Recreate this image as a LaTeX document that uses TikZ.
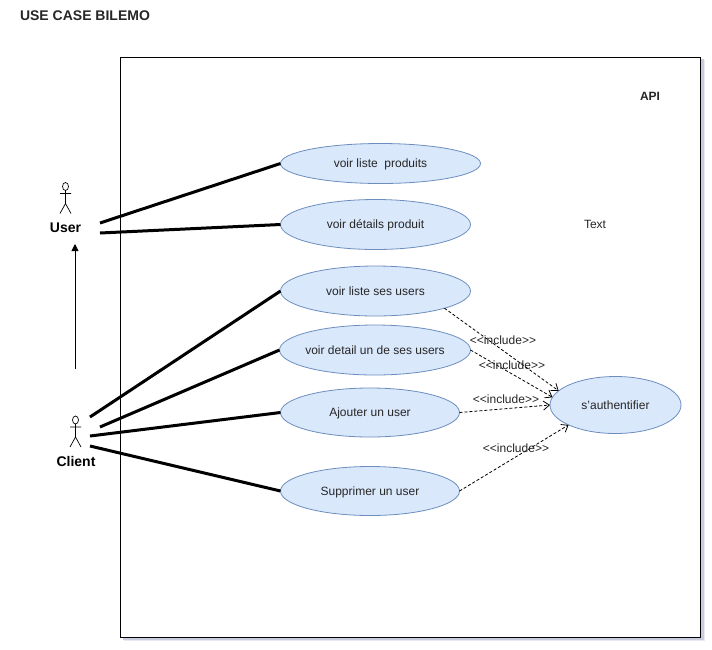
\documentclass[tikz,border=0pt]{standalone}
\usepackage{fontspec}
\setmainfont{Liberation Sans}
\usetikzlibrary{shapes.geometric, arrows.meta, positioning}

\definecolor{blue1}{HTML}{6C8EBF}
\definecolor{blue2}{HTML}{DAE8FC}
\definecolor{boxshade}{HTML}{C8CCDC}
\definecolor{boxshadelight}{HTML}{E8EAF1}
\tikzset{
    usecase/.style={ellipse, draw=blue1, fill=blue2, line width=0.8pt, inner sep=0pt, outer sep=0pt, text height=10pt, text depth=2pt, font=\fontsize{12}{14}\selectfont, text=black!85},
    actorlabel/.style={font=\bfseries\fontsize{14}{16}\selectfont, inner sep=0pt},
    plainlabel/.style={font=\fontsize{12}{14}\selectfont, inner sep=0pt, text=black!85},
    titlelabel/.style={font=\bfseries\fontsize{12}{14}\selectfont, inner sep=0pt, text=black!85},
    assoc/.style={line width=3pt},
    incl/.style={densely dashed, line width=0.8pt, -{Straight Barb[length=6pt,width=9pt]}},
    stick/.pic={
        \draw[line width=0.7pt] (0,0) ellipse (3pt and 4pt);
        \draw[line width=0.7pt] (0,4) -- (0,17) (-5.5,7) -- (5.5,7) (-5.5,27) -- (0,17) -- (5.5,27);
    }
}

\begin{document}
\begin{tikzpicture}[x=1pt, y=-1pt]
\useasboundingbox (0,0) rectangle (712,649);

% System box
\fill[boxshadelight] (124,60) rectangle (705,641);
\fill[boxshade] (123,59) rectangle (703.5,639.5);
\node[draw, fill=white, line width=1pt, minimum width=580pt, minimum height=580pt, inner sep=0pt, outer sep=0pt] (sysbox) at (410.5,347) {};

\node[titlelabel, font=\bfseries\fontsize{14}{16}\selectfont] (title) at (85,16) {USE CASE BILEMO};
\node[titlelabel] (api) at (650,96) {API};
\node[plainlabel] (txt) at (595,224.5) {Text};

% Use cases
\node[usecase, minimum width=200pt, minimum height=40pt] (listeproduits) at (380.5,163.5) {voir liste\ \ produits};
\node[usecase, minimum width=190pt, minimum height=50pt] (detailsproduit) at (375.5,224.5) {voir détails produit};
\node[usecase, minimum width=190pt, minimum height=50pt] (listeusers) at (375.5,291) {voir liste ses users};
\node[usecase, minimum width=191pt, minimum height=50pt] (detailuser) at (375,350) {\makebox[0pt]{voir detail un de ses users}};
\node[usecase, minimum width=179pt, minimum height=49pt] (ajouter) at (370,412.5) {Ajouter un user};
\node[usecase, minimum width=179pt, minimum height=49pt] (supprimer) at (370,491) {Supprimer un user};
\node[usecase, minimum width=131pt, minimum height=57pt] (auth) at (615.5,405) {s'authentifier};

% Actors
\pic at (65.5,186.5) {stick};
\pic at (75.5,420) {stick};
\node[actorlabel] (user) at (65.5,228) {User};
\node[actorlabel] (client) at (76,461) {Client};

% Free ends
\coordinate (ua) at (100,223);
\coordinate (ub) at (100,233);
\coordinate (ca) at (90,417);
\coordinate (cb) at (100,427);
\coordinate (cc) at (90,436);
\coordinate (cd) at (90,446);
\coordinate (genfrom) at (75,369);
\coordinate (gento) at (75,244);

% Associations
\draw[assoc] (ua) -- (listeproduits.west);
\draw[assoc] (ub) -- (detailsproduit.west);
\draw[assoc] (ca) -- (listeusers.west);
\draw[assoc] (cb) -- (detailuser.west);
\draw[assoc] (cc) -- (ajouter.west);
\draw[assoc] (cd) -- (supprimer.west);
\draw[line width=0.8pt, -{Triangle[length=7pt,width=7pt]}] (genfrom) -- (gento);

% Includes
\draw[incl] (listeusers.-14) -- (auth.166);
\draw[incl] (detailuser.east) -- (auth.173.5);
\draw[incl] (ajouter.east) -- (auth.west);
\draw[incl] (supprimer.east) -- (auth.203);
\foreach \n/\x/\y in {ia/503/340, ib/512/365, ic/506/399, id/516/448} {
    \node[plainlabel] (\n) at (\x,\y) {<{}<include>{}>};
}
\end{tikzpicture}
\end{document}
